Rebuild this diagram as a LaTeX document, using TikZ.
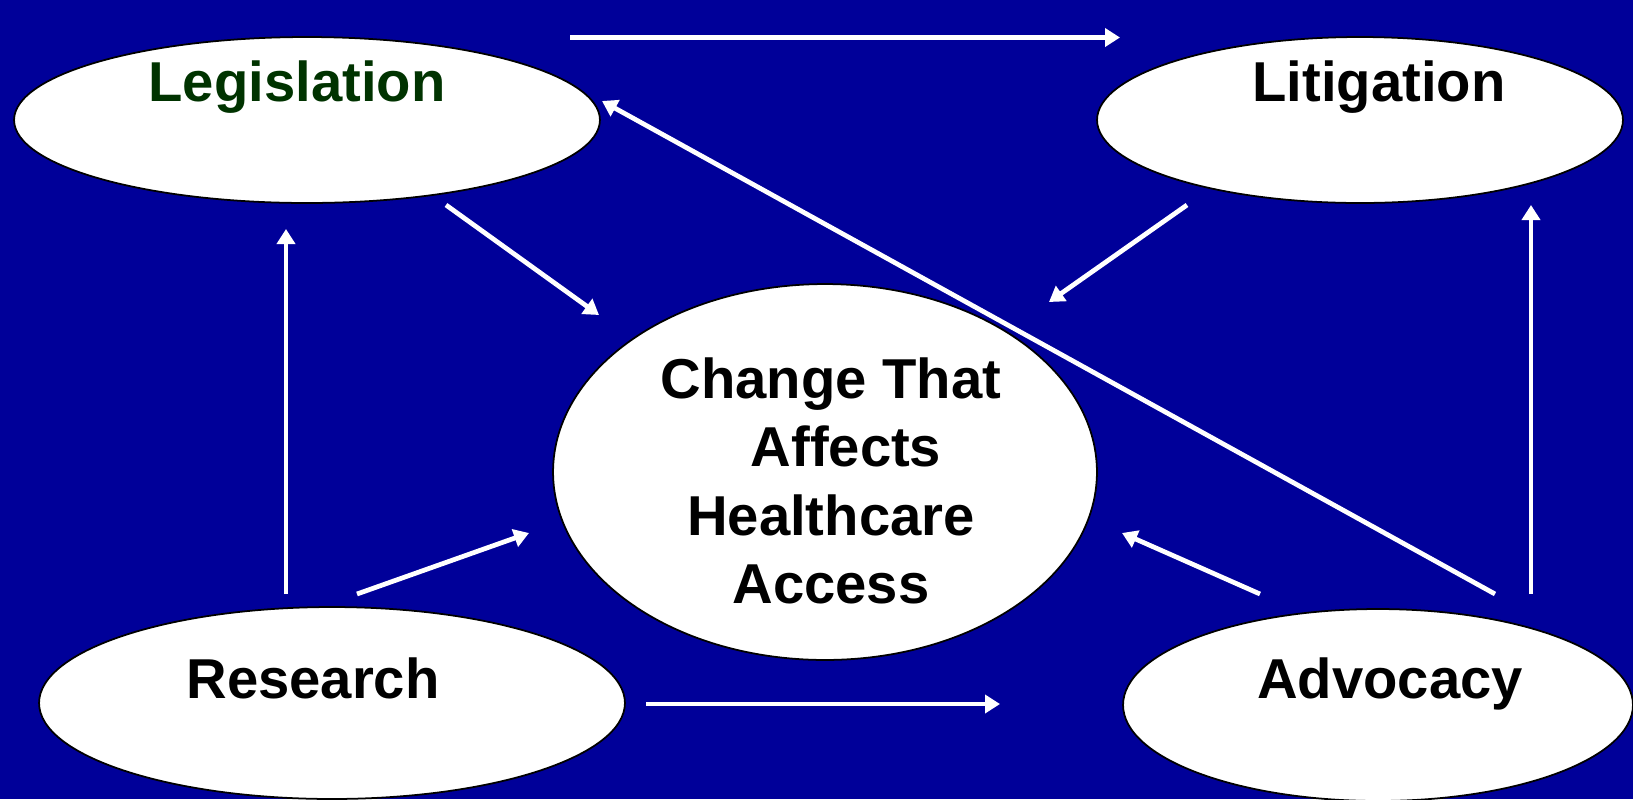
\documentclass[tikz,border=0pt]{standalone}
\usepackage{fontspec}
\setmainfont{Liberation Sans}
\usetikzlibrary{shapes.geometric,arrows.meta}

\definecolor{slideblue}{RGB}{0,0,153}
\definecolor{leggreen}{RGB}{0,51,0}

\tikzset{
	blob/.style={ellipse, draw=black, line width=1pt, fill=white, inner sep=0pt},
	lbl/.style={font=\fontsize{32}{39}\selectfont\bfseries, inner sep=0pt},
	flow/.style={white, line width=2.7pt, -{Triangle[length=0.3cm, width=0.36cm]}},
}

\begin{document}
\begin{tikzpicture}[x=0.02cm, y=-0.02cm]
	\useasboundingbox (0,0) rectangle (1633,799);
	\clip (0,0) rectangle (1633,799);
	\fill[slideblue] (0,0) rectangle (1633,799);

	% ellipses
	\node[blob, minimum width=11.72cm, minimum height=3.32cm] (leg) at (307,120) {};
	\node[blob, minimum width=10.52cm, minimum height=3.32cm] (lit) at (1360,120) {};
	\node[blob, minimum width=11.72cm, minimum height=3.84cm] (res) at (332,703) {};
	\node[blob, minimum width=10.2cm, minimum height=3.84cm] (adv) at (1378,705) {};
	\node[blob, minimum width=10.88cm, minimum height=7.52cm] (chg) at (825,472) {};

	% labels
	\node[lbl, anchor=base, text=leggreen] (legtext) at (297,101) {Legislation};
	\node[lbl, anchor=base] (littext) at (1379,101) {Litigation};
	\node[lbl, anchor=base] (restext) at (313,698) {Research};
	\node[lbl, anchor=base] (advtext) at (1390,698) {Advocacy};
	\node[lbl, align=center] (chgtext) at (831,481)
		{Change That\\\hspace*{0.6cm}Affects\\Healthcare\\Access};

	% arrow ends
	\coordinate (legR) at (570,37.5);   \coordinate (litL) at (1120,37.5);
	\coordinate (advT) at (1495,594);   \coordinate (legE) at (602,101);
	\coordinate (legB) at (446,205);    \coordinate (chgNW) at (599,315);
	\coordinate (litB) at (1187,205);   \coordinate (chgNE) at (1049,302);
	\coordinate (resT) at (286,594);    \coordinate (legS) at (286,229);
	\coordinate (resTR) at (357,594);   \coordinate (chgW) at (529,533);
	\coordinate (resR) at (646,704);    \coordinate (advL) at (1000,704);
	\coordinate (advTL) at (1260,594);  \coordinate (chgE) at (1122,533);
	\coordinate (advTR) at (1531,594);  \coordinate (litS) at (1531,205);

	% arrows
	\draw[flow] (legR) -- (litL);
	\draw[flow] (advT) -- (legE);
	\draw[flow] (legB) -- (chgNW);
	\draw[flow] (litB) -- (chgNE);
	\draw[flow] (resT) -- (legS);
	\draw[flow] (resTR) -- (chgW);
	\draw[flow] (resR) -- (advL);
	\draw[flow] (advTL) -- (chgE);
	\draw[flow] (advTR) -- (litS);
\end{tikzpicture}
\end{document}
